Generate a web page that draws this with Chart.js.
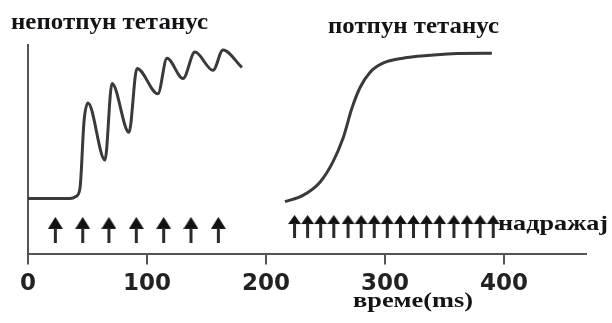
<!DOCTYPE html>
<html>
<head>
<meta charset="utf-8">
<script src="https://cdn.jsdelivr.net/npm/chart.js@4/dist/chart.umd.min.js"></script>
<style>
html,body{margin:0;padding:0;background:#fff;}
#c{display:block;}
</style>
</head>
<body>
<canvas id="c" width="612" height="323"></canvas>
<script>
// ---- data (time in ms, force in arbitrary units 0..100) ----
const incompleteTime  = [0, 35.3, 40.3, 43.7, 47.1, 50.4, 64.7, 70.6, 84.9, 91.6, 109.2, 116.8, 130.3, 140.3, 155.5, 163.9, 179.8];
const incompleteForce = [26.7, 26.7, 27.7, 31.6, 63.6, 72.3, 45.1, 81.6, 58.3, 88.8, 76.7, 93.7, 84.0, 96.6, 87.9, 97.6, 89.3];
const completeTime  = [216.0, 231.1, 245.4, 256.3, 264.7, 272.3, 279.0, 287.4, 298.3, 315.1, 337.8, 360.5, 389.9];
const completeForce = [25.2, 28.2, 34.5, 44.2, 55.3, 69.9, 79.6, 86.9, 91.3, 93.7, 95.1, 96.0, 96.1];
const stimulusSlow = [23, 46, 68, 91, 114, 137, 160];
const stimulusFast = [224, 235, 246, 257, 269, 280, 291, 302, 313, 324, 335, 346, 358, 369, 380, 391];
const stimulusLevelSlow = 11.7;
const stimulusLevelFast = 13.3;
const xTicks = [0, 100, 200, 300, 400];
const labelIncomplete = 'непотпун тетанус';
const labelComplete = 'потпун тетанус';
const labelStimulus = 'надражај';
const labelTime = 'време(ms)';

function makeArrow(w, h, headH, stemW) {
  const c = document.createElement('canvas');
  c.width = w; c.height = h;
  const g = c.getContext('2d');
  g.fillStyle = '#111';
  g.beginPath();
  g.moveTo(w / 2, 0);
  g.lineTo(w, headH);
  g.lineTo(0, headH);
  g.closePath();
  g.fill();
  g.fillStyle = '#2a2a2a';
  g.fillRect(w / 2 - stemW / 2, headH - 1, stemW, h - headH + 1);
  return c;
}
const arrowBig = makeArrow(15, 26, 12, 3);
const arrowSmall = makeArrow(13, 23, 9, 3);

function drawStretched(ctx, text, x, y, width) {
  const w = ctx.measureText(text).width;
  ctx.save();
  ctx.translate(x, y);
  ctx.scale(width / w, 1);
  ctx.fillText(text, 0, 0);
  ctx.restore();
}

const textPlugin = {
  id: 'texts',
  afterDraw(chart) {
    const ctx = chart.ctx;
    ctx.save();
    ctx.fillStyle = '#141418';
    ctx.textBaseline = 'alphabetic';
    ctx.textAlign = 'left';
    ctx.font = 'bold 23px "Liberation Serif"';
    drawStretched(ctx, labelIncomplete, 11, 29, 197);
    drawStretched(ctx, labelComplete, 328, 33, 171);
    ctx.font = 'bold 21px "Liberation Serif"';
    drawStretched(ctx, labelStimulus, 498, 230, 110);
    drawStretched(ctx, labelTime, 353, 307, 120);
    ctx.restore();
  }
};

const lineStyle = {
  borderColor: '#3a3a3a',
  borderWidth: 3,
  pointRadius: 0,
  fill: false,
  cubicInterpolationMode: 'monotone',
  showLine: true
};

new Chart(document.getElementById('c'), {
  type: 'scatter',
  data: {
    datasets: [
      Object.assign({ data: incompleteTime.map((t, i) => ({ x: t, y: incompleteForce[i] })) }, lineStyle),
      Object.assign({ data: completeTime.map((t, i) => ({ x: t, y: completeForce[i] })) }, lineStyle),
      { data: stimulusSlow.map(t => ({ x: t, y: stimulusLevelSlow })), pointStyle: arrowBig, pointRadius: 5, showLine: false },
      { data: stimulusFast.map(t => ({ x: t, y: stimulusLevelFast })), pointStyle: arrowSmall, pointRadius: 5, showLine: false }
    ]
  },
  options: {
    responsive: false,
    animation: false,
    devicePixelRatio: 1,
    layout: { padding: { left: 28, right: 26, top: 45, bottom: 19 } },
    plugins: { legend: { display: false }, tooltip: { enabled: false } },
    scales: {
      x: {
        type: 'linear',
        min: 0,
        max: 469,
        afterBuildTicks(scale) { scale.ticks = xTicks.map(v => ({ value: v })); },
        ticks: {
          color: '#222',
          font: { family: '"DejaVu Sans"', size: 23, weight: 'bold' },
          padding: 6,
          maxRotation: 0
        },
        grid: { display: true, drawOnChartArea: false, drawTicks: true, tickLength: 10, color: '#555', lineWidth: 2 },
        border: { display: true, color: '#555', width: 2 }
      },
      y: {
        min: 0,
        max: 100,
        ticks: { display: false },
        grid: { display: false },
        border: { display: true, color: '#555', width: 2 },
        afterFit(scale) { scale.width = 0; }
      }
    }
  },
  plugins: [textPlugin]
});
</script>
</body>
</html>
